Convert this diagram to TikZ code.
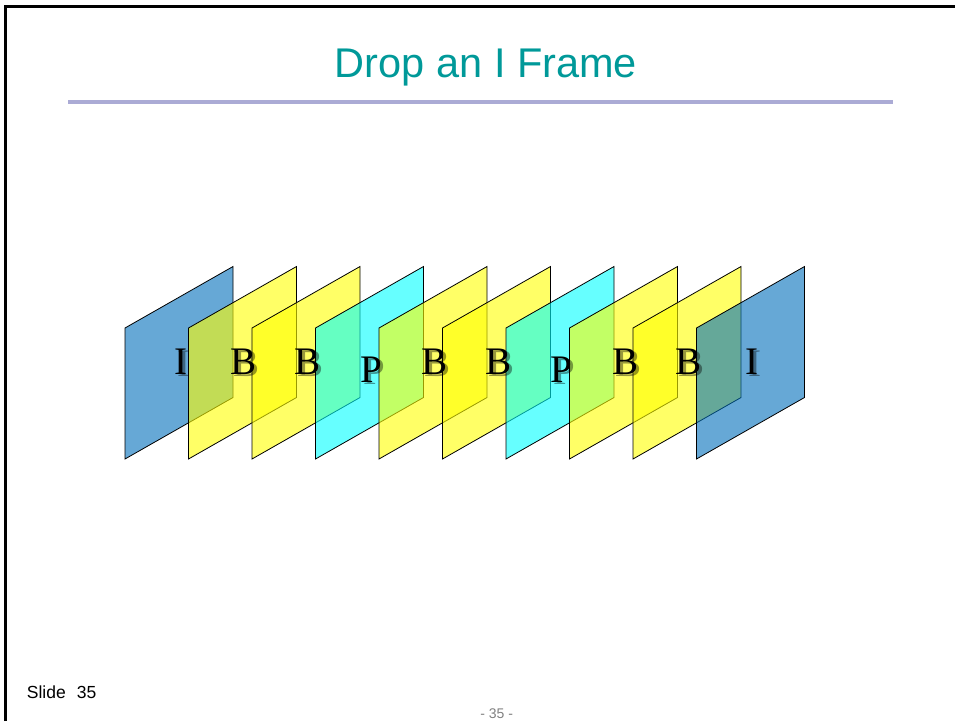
\documentclass[tikz,border=0pt]{standalone}
\usepackage{fontspec}
\setmainfont{Liberation Serif}
\newfontfamily\arialfont{Liberation Sans}
\usetikzlibrary{positioning}
\definecolor{titleteal}{HTML}{009999}
\definecolor{rulelav}{HTML}{ABABD5}
\definecolor{iblue}{HTML}{006EBB}
\definecolor{byellow}{HTML}{FFFF00}
\definecolor{pcyan}{HTML}{00FFFF}
\definecolor{pagegray}{HTML}{808080}

\begin{document}
\begin{tikzpicture}[x=1pt,y=-1pt,
 frame/.style={draw=black,line width=.8pt,fill opacity=.6,line join=miter},
 lbl/.style={font=\fontsize{39}{39}\selectfont,inner sep=0pt,anchor=base},
 shade/.style={lbl,text=black,text opacity=.4}]
\useasboundingbox (0,0) rectangle (955,721);
\draw[line width=3pt] (5.5,721) -- (5.5,6) -- (955,6);
\node[font=\arialfont\fontsize{41.5}{41.5}\selectfont,text=titleteal,inner sep=0pt,anchor=base] (title) at (486,77.7) {Drop an I Frame};
\draw[rulelav,line width=4pt] (68,102) -- (893,102);
% frames, left to right, each one over the last
\foreach \c [count=\i from 0] in {iblue,byellow,byellow,pcyan,byellow,byellow,pcyan,byellow,byellow,iblue}
  \filldraw[frame,fill=\c] ({125+63.5*\i},459) -- ++(0,-131) -- ++(108,-61.5) -- ++(0,131) -- cycle;
\foreach \t/\b [count=\i from 0] in {I/374,B/374,B/374,P/382,B/374,B/374,P/382,B/374,B/374,I/374} {
  \node[shade] (s\i) at ({183.5+63.5*\i},\b+2) {\t};
  \node[lbl] (l\i) at ({180.5+63.5*\i},\b) {\t};
}
\node[font=\arialfont\fontsize{17.5}{17.5}\selectfont,inner sep=0pt,anchor=base west] (slide) at (26.7,698.3) {Slide\hspace{11pt}35};
\node[font=\arialfont\fontsize{14}{14}\selectfont,text=pagegray,inner sep=0pt,anchor=base] (page) at (496.7,718.3) {- 35 -};
\end{tikzpicture}
\end{document}
